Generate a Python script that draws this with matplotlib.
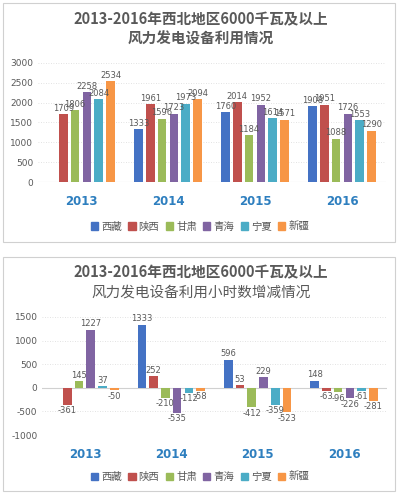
import numpy as np
import matplotlib
matplotlib.use("Agg")
import matplotlib.pyplot as plt
from matplotlib.patches import Rectangle

plt.rcParams['font.family'] = ['Noto Sans CJK SC', 'DejaVu Sans']

years = ['2013', '2014', '2015', '2016']
regions = ['西藏', '陕西', '甘肃', '青海', '宁夏', '新疆']
colors = ['#4472C4', '#C0504D', '#9BBB59', '#8064A2', '#4BACC6', '#F79646']

# utilisation hours (rows = region, cols = year)
hours_xizang = [np.nan, 1333, 1760, 1908]
hours_shaanxi = [1709, 1961, 2014, 1951]
hours_gansu = [1806, 1596, 1184, 1088]
hours_qinghai = [2258, 1723, 1952, 1726]
hours_ningxia = [2084, 1973, 1614, 1553]
hours_xinjiang = [2534, 2094, 1571, 1290]

# change in hours
chg_xizang = [np.nan, 1333, 596, 148]
chg_shaanxi = [-361, 252, 53, -63]
chg_gansu = [145, -210, -412, -96]
chg_qinghai = [1227, -535, 229, -226]
chg_ningxia = [37, -112, -359, -61]
chg_xinjiang = [-50, -58, -523, -281]

hours = [hours_xizang, hours_shaanxi, hours_gansu, hours_qinghai, hours_ningxia, hours_xinjiang]
chg = [chg_xizang, chg_shaanxi, chg_gansu, chg_qinghai, chg_ningxia, chg_xinjiang]

title1 = '2013-2016年西北地区6000千瓦及以上\n风力发电设备利用情况'
title2a = '2013-2016年西北地区6000千瓦及以上'
title2b = '风力发电设备利用小时数增减情况'

W, H = 398, 494
fig = plt.figure(figsize=(W / 100, H / 100), dpi=100)
fig.patch.set_facecolor('white')

gray = '#595959'
year_color = '#2E7FBF'

# panel borders
for (x0, y0, x1, y1) in [(3, 3, 395, 242), (3, 257, 395, 491)]:
    fig.patches.append(Rectangle((x0 / W, 1 - y1 / H), (x1 - x0) / W, (y1 - y0) / H,
                                 transform=fig.transFigure, fill=False,
                                 edgecolor='#D0D0D0', linewidth=0.8))

step = 0.136
bw = 0.10
x = np.arange(len(years))


def draw(ax, data, ylim, yticks):
    for i, (vals, c) in enumerate(zip(data, colors)):
        pos = x + (i - 2.5) * step
        ax.bar(pos, vals, width=bw, color=c, zorder=3)
        for p, v in zip(pos, vals):
            if np.isnan(v):
                continue
            if v >= 0:
                ax.annotate(f'{int(v)}', (p, v), xytext=(0, 1), textcoords='offset points',
                            ha='center', va='bottom', fontsize=6, color=gray,
                            family=['DejaVu Sans'], zorder=4)
            else:
                ax.annotate(f'{int(v)}', (p, v), xytext=(0, -1), textcoords='offset points',
                            ha='center', va='top', fontsize=6, color=gray,
                            family=['DejaVu Sans'], zorder=4)
    ax.set_xlim(-0.5, len(years) - 0.5)
    ax.set_ylim(*ylim)
    ax.set_yticks(yticks)
    ax.set_yticklabels([str(t) for t in yticks], fontsize=6.5, color=gray,
                       family=['DejaVu Sans'])
    ax.set_xticks(x)
    ax.set_xticklabels(years, fontsize=8.5, fontweight='bold', color=year_color,
                       family=['DejaVu Sans'])
    ax.tick_params(axis='x', length=0, pad=9)
    ax.tick_params(axis='y', length=0, pad=3)
    for s in ax.spines.values():
        s.set_visible(False)
    ax.grid(axis='y', color='#D9D9D9', linewidth=0.6, linestyle=(0, (1, 2)), zorder=0)
    ax.axhline(0, color='#D0D0D0', linewidth=0.8, zorder=2)
    ax.set_facecolor('none')


# top chart
ax1 = fig.add_axes([37.5 / W, 1 - 182 / H, 348 / W, (182 - 63) / H])
draw(ax1, hours, (0, 3000), [0, 500, 1000, 1500, 2000, 2500, 3000])
fig.text(201 / W, 1 - 29 / H, title1, ha='center', va='center', fontsize=10.5,
         fontweight='bold', color=gray, linespacing=1.25)

# bottom chart
ax2 = fig.add_axes([41.7 / W, 1 - 435 / H, 345.5 / W, (435 - 317) / H])
draw(ax2, chg, (-1000, 1500), [-1000, -500, 0, 500, 1000, 1500])
fig.text(201 / W, 1 - 272 / H, title2a, ha='center', va='center', fontsize=10.5,
         fontweight='bold', color=gray)
fig.text(201 / W, 1 - 293 / H, title2b, ha='center', va='center', fontsize=10.5,
         color=gray)

# legends
handles = [Rectangle((0, 0), 1, 1, color=c) for c in colors]
for ycen in (226.5, 477):
    fig.legend(handles, regions, loc='center', bbox_to_anchor=(200 / W, 1 - ycen / H),
               ncol=6, frameon=False, fontsize=7.5, handlelength=0.7, handleheight=0.7,
               handletextpad=0.3, columnspacing=0.6, labelcolor=gray)

fig.savefig('out.png', dpi=100, facecolor='white')
